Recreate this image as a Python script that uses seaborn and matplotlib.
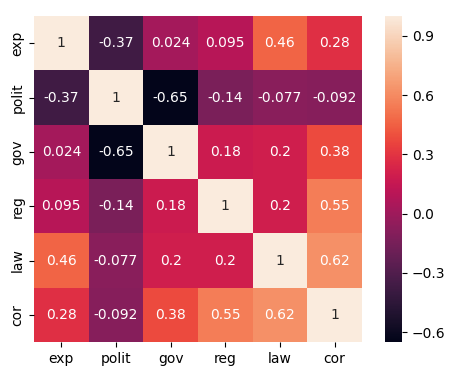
import numpy as np
import pandas as pd
import matplotlib
matplotlib.use('Agg')
import matplotlib.pyplot as plt
import seaborn as sns

labels = ["exp", "polit", "gov", "reg", "law", "cor"]
exp_row = [1, -0.37, 0.024, 0.095, 0.46, 0.28]
polit_row = [-0.37, 1, -0.65, -0.14, -0.077, -0.092]
gov_row = [0.024, -0.65, 1, 0.18, 0.2, 0.38]
reg_row = [0.095, -0.14, 0.18, 1, 0.2, 0.55]
law_row = [0.46, -0.077, 0.2, 0.2, 1, 0.62]
cor_row = [0.28, -0.092, 0.38, 0.55, 0.62, 1]

corr = pd.DataFrame([exp_row, polit_row, gov_row, reg_row, law_row, cor_row],
                    index=labels, columns=labels)

fig = plt.figure(figsize=(4.63, 3.77), dpi=100)
ax = fig.add_axes([0.0734, 0.0928, 0.7084, 0.8647])
cax = fig.add_axes([0.8315, 0.0928, 0.0367, 0.8647])
sns.heatmap(corr, annot=True, square=False, ax=ax, cbar_ax=cax)
cax.set_yticks([-0.6, -0.3, 0.0, 0.3, 0.6, 0.9])
plt.savefig('out.png', dpi=100)
